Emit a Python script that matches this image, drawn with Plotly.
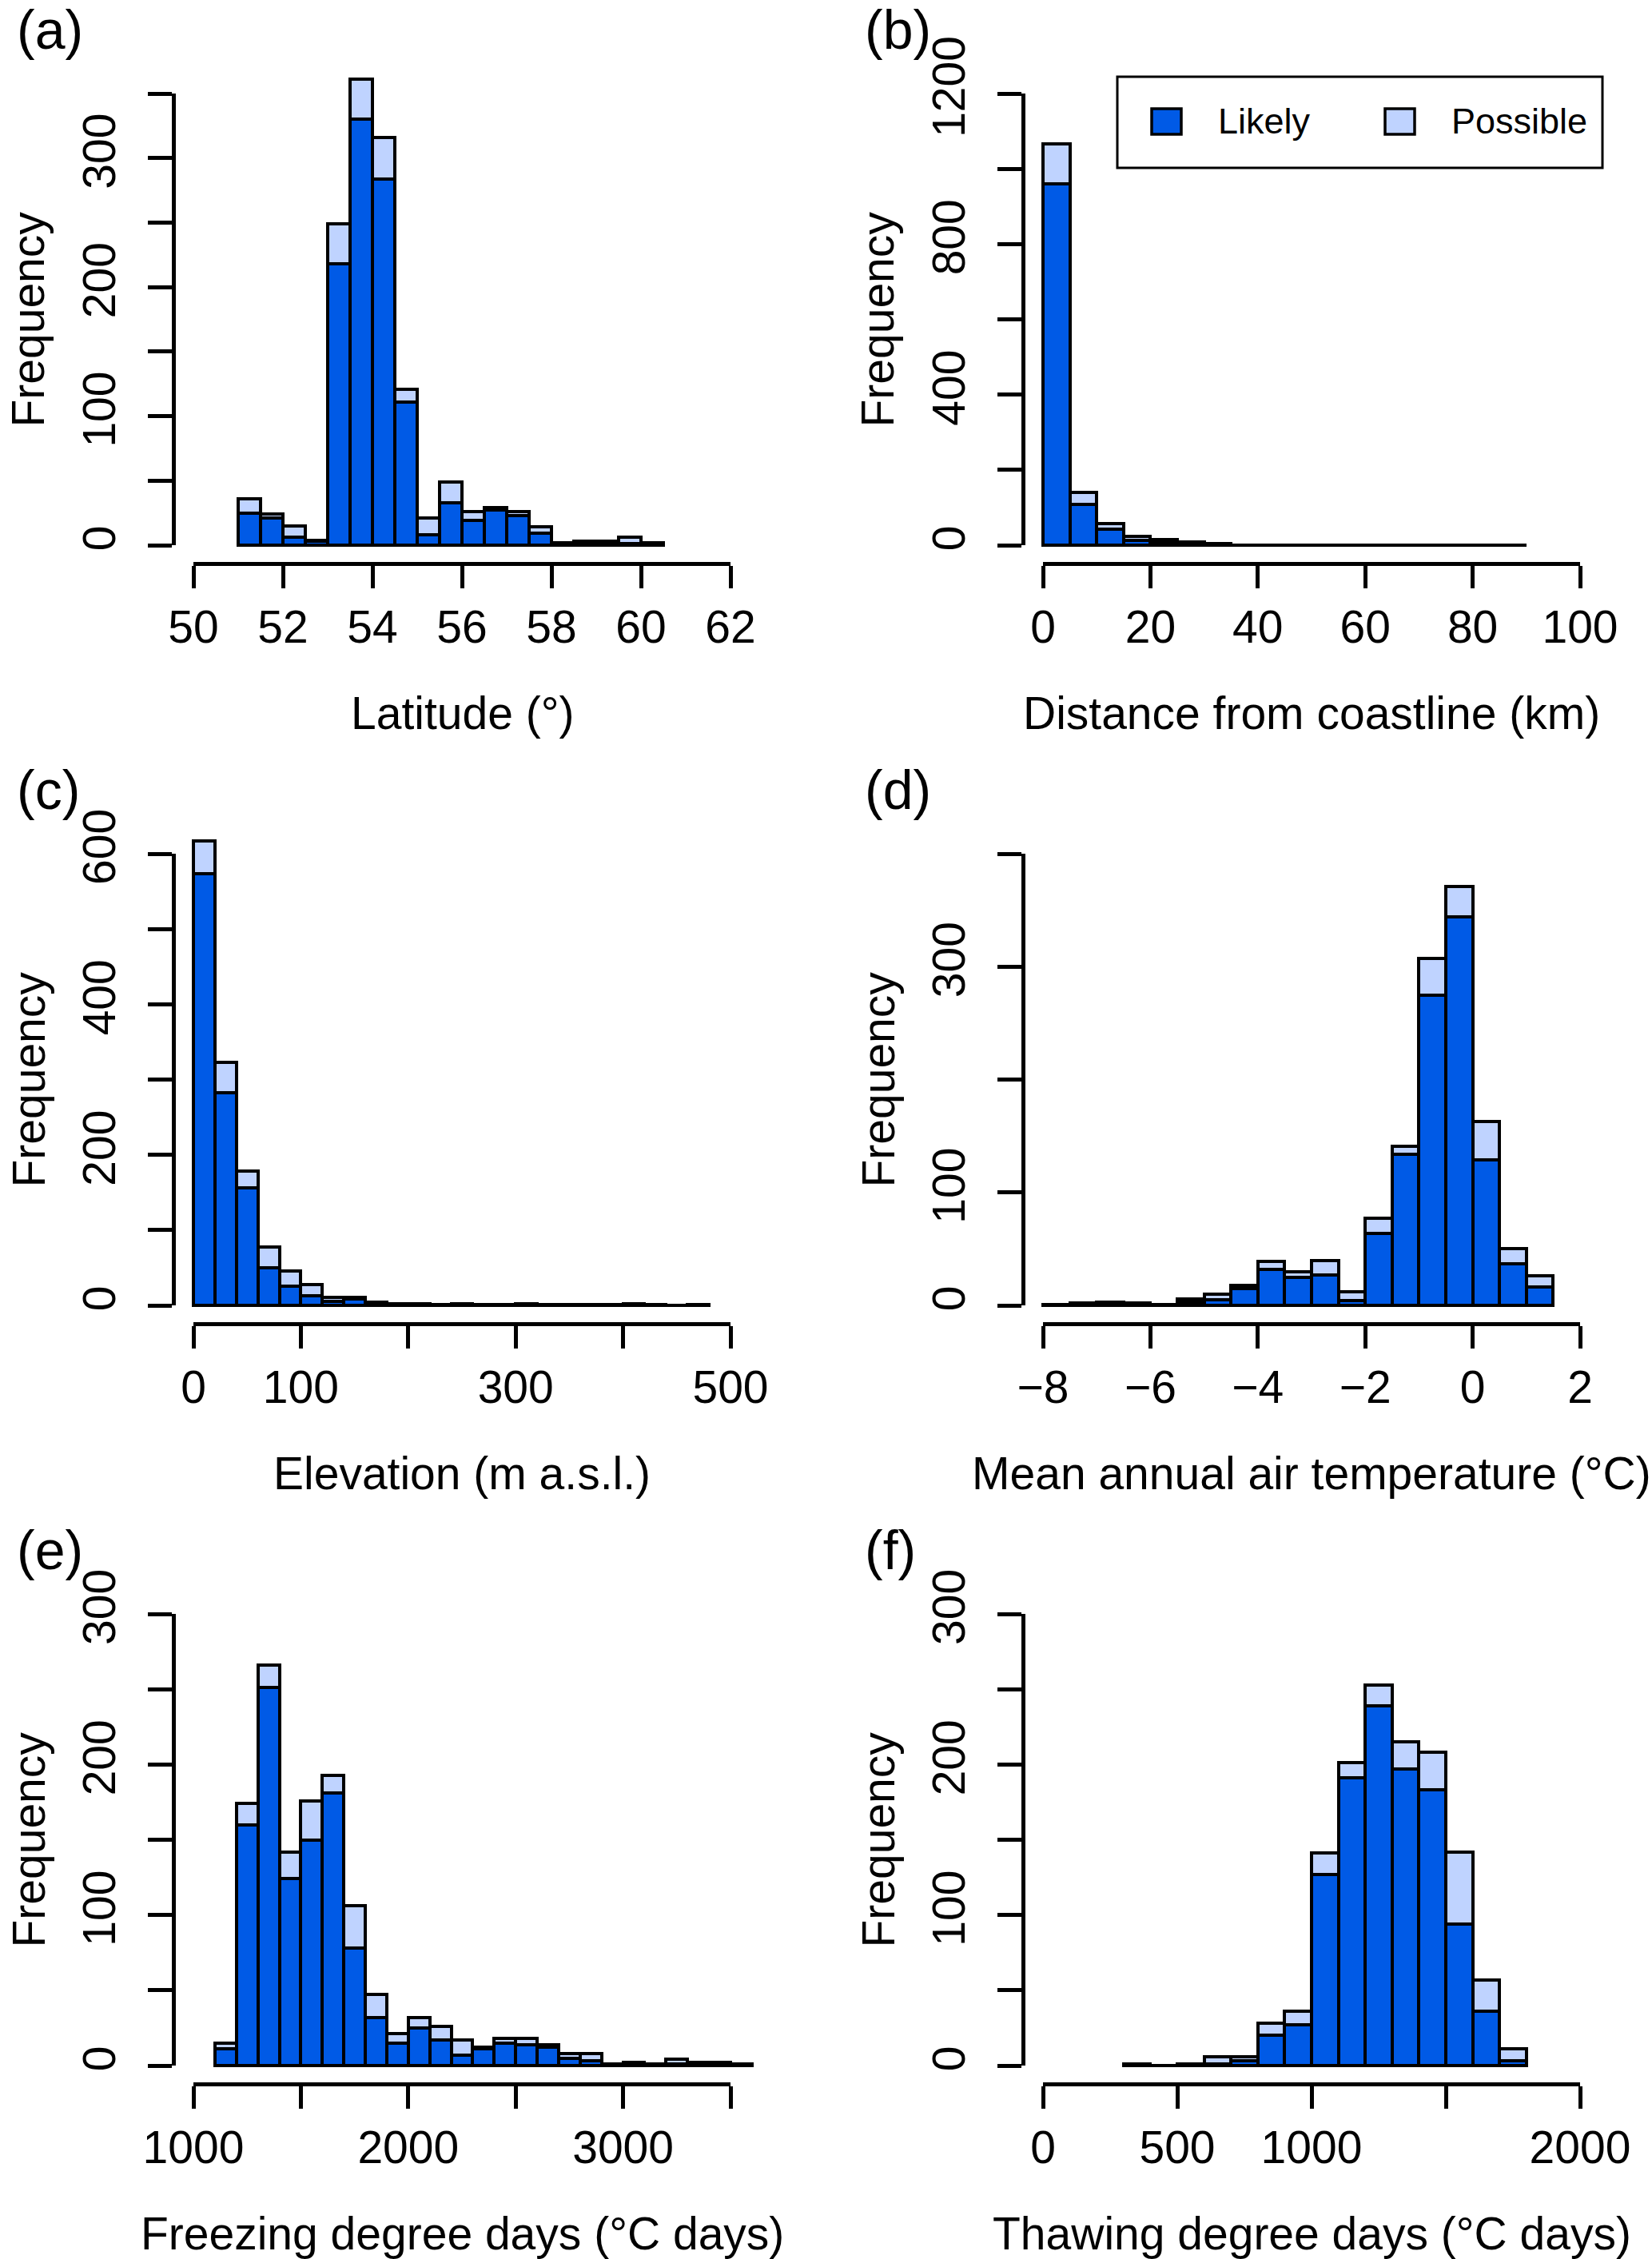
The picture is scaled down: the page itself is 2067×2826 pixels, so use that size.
import plotly.graph_objects as go

W, H = 2067, 2826
FONT = "Liberation Sans, Arial, sans-serif"
LIKELY_COLOR = "#005ae6"
POSSIBLE_COLOR = "#bfd3ff"

series_names = ["Likely", "Possible"]

# (a) latitude, bins of 0.5 degree (left edges)
lat_bins = [51.0, 51.5, 52.0, 52.5, 53.0, 53.5, 54.0, 54.5, 55.0, 55.5,
            56.0, 56.5, 57.0, 57.5, 58.0, 58.5, 59.0, 59.5, 60.0]
lat_likely = [25, 21, 6, 3, 218, 330, 284, 111, 8, 33, 19, 27, 23, 9, 1, 2, 2, 1, 2]
lat_possible = [11, 3, 9, 1, 31, 31, 32, 10, 13, 16, 7, 2, 3, 5, 1, 1, 1, 5, 0]
lat_xticks = [50, 52, 54, 56, 58, 60, 62]
lat_xlabels = ["50", "52", "54", "56", "58", "60", "62"]
lat_yticks = [0, 50, 100, 150, 200, 250, 300, 350]
lat_ylabels = ["0", "", "100", "", "200", "", "300", ""]

# (b) distance from coastline, bins of 5 km
dist_bins = [0, 5, 10, 15, 20, 25, 30, 35, 40, 45, 50, 55, 60, 65, 70, 75, 80, 85]
dist_likely = [959, 108, 42, 13, 9, 5, 3, 1, 1, 0, 1, 0, 0, 1, 0, 0, 0, 1]
dist_possible = [108, 32, 15, 11, 6, 4, 1, 0, 0, 0, 0, 0, 0, 0, 0, 0, 1, 0]
dist_xticks = [0, 20, 40, 60, 80, 100]
dist_xlabels = ["0", "20", "40", "60", "80", "100"]
dist_yticks = [0, 200, 400, 600, 800, 1000, 1200]
dist_ylabels = ["0", "", "400", "", "800", "", "1200"]

# (c) elevation, bins of 20 m
elev_bins = [0, 20, 40, 60, 80, 100, 120, 140, 160, 180, 200, 220,
             240, 260, 280, 300, 320, 340, 360, 380, 400, 420, 440, 460]
elev_likely = [573, 283, 156, 50, 25, 13, 5, 8, 3, 1, 1, 1, 1, 0, 1, 1, 0, 1, 0, 1, 1, 1, 0, 1]
elev_possible = [44, 40, 22, 27, 21, 15, 6, 3, 1, 1, 1, 0, 1, 1, 0, 1, 1, 0, 1, 0, 1, 0, 0, 0]
elev_xticks = [0, 100, 200, 300, 400, 500]
elev_xlabels = ["0", "100", "", "300", "", "500"]
elev_yticks = [0, 100, 200, 300, 400, 500, 600]
elev_ylabels = ["0", "", "200", "", "400", "", "600"]

# (d) mean annual air temperature, bins of 0.5 degC
maat_bins = [-8.0, -7.5, -7.0, -6.5, -6.0, -5.5, -5.0, -4.5, -4.0, -3.5,
             -3.0, -2.5, -2.0, -1.5, -1.0, -0.5, 0.0, 0.5, 1.0]
maat_likely = [1, 1, 2, 1, 1, 3, 5, 15, 32, 25, 27, 4, 64, 134, 275, 344, 129, 37, 16]
maat_possible = [0, 1, 1, 1, 0, 3, 5, 3, 7, 5, 13, 8, 13, 7, 32, 27, 34, 13, 10]
maat_xticks = [-8, -6, -4, -2, 0, 2]
maat_xlabels = ["\u22128", "\u22126", "\u22124", "\u22122", "0", "2"]
maat_yticks = [0, 100, 200, 300, 400]
maat_ylabels = ["0", "100", "", "300", ""]

# (e) freezing degree days, bins of 100
fdd_bins = [1100, 1200, 1300, 1400, 1500, 1600, 1700, 1800, 1900, 2000, 2100, 2200, 2300,
            2400, 2500, 2600, 2700, 2800, 2900, 3000, 3100, 3200, 3300, 3400, 3500]
fdd_likely = [11, 160, 251, 124, 150, 181, 78, 32, 15, 25, 17, 7, 11,
              15, 14, 12, 5, 3, 1, 1, 1, 1, 1, 1, 1]
fdd_possible = [4, 14, 15, 18, 26, 12, 28, 15, 6, 7, 9, 10, 1,
                3, 4, 2, 3, 5, 0, 1, 0, 3, 1, 1, 0]
fdd_xticks = [1000, 1500, 2000, 2500, 3000, 3500]
fdd_xlabels = ["1000", "", "2000", "", "3000", ""]
fdd_yticks = [0, 50, 100, 150, 200, 250, 300]
fdd_ylabels = ["0", "", "100", "", "200", "", "300"]

# (f) thawing degree days, bins of 100
tdd_bins = [300, 400, 500, 600, 700, 800, 900, 1000, 1100, 1200, 1300, 1400, 1500, 1600, 1700]
tdd_likely = [1, 0, 1, 1, 3, 20, 27, 127, 191, 239, 197, 183, 94, 36, 3]
tdd_possible = [0, 0, 0, 5, 3, 8, 9, 14, 10, 14, 18, 25, 48, 21, 8]
tdd_xticks = [0, 500, 1000, 1500, 2000]
tdd_xlabels = ["0", "500", "1000", "", "2000"]
tdd_yticks = [0, 50, 100, 150, 200, 250, 300]
tdd_ylabels = ["0", "", "100", "", "200", "", "300"]

panels = [
    ("(a)", "Latitude (\u00b0)", lat_bins, 0.5, lat_likely, lat_possible,
     lat_xticks, lat_xlabels, lat_yticks, lat_ylabels),
    ("(b)", "Distance from coastline (km)", dist_bins, 5, dist_likely, dist_possible,
     dist_xticks, dist_xlabels, dist_yticks, dist_ylabels),
    ("(c)", "Elevation (m a.s.l.)", elev_bins, 20, elev_likely, elev_possible,
     elev_xticks, elev_xlabels, elev_yticks, elev_ylabels),
    ("(d)", "Mean annual air temperature (\u00b0C)", maat_bins, 0.5, maat_likely, maat_possible,
     maat_xticks, maat_xlabels, maat_yticks, maat_ylabels),
    ("(e)", "Freezing degree days (\u00b0C days)", fdd_bins, 100, fdd_likely, fdd_possible,
     fdd_xticks, fdd_xlabels, fdd_yticks, fdd_ylabels),
    ("(f)", "Thawing degree days (\u00b0C days)", tdd_bins, 100, tdd_likely, tdd_possible,
     tdd_xticks, tdd_xlabels, tdd_yticks, tdd_ylabels),
]

# pixel geometry of panel (a); the others are shifted by column / row
COL_DX, ROW_DY = 1063, 951
XT0, XT1 = 242, 914      # first / last x tick
YAX_X = 217              # y axis line
Y0, YTOP = 682, 117      # y = 0 and top y tick
XAX_Y = 705              # x axis line
PAD_L, PAD_R, PAD_B, PAD_T = 60, 80, 12, 70
LW = 4.5
BAR_LW = 4.2
TICK_SIZE = 57

fig = go.Figure()
layout = {}
annotations = []

for k, (tag, xtitle, bins, bw, likely, possible, xt, xl, yt, yl) in enumerate(panels):
    col, row = k % 2, k // 2
    ox, oy = col * COL_DX, row * ROW_DY
    xt0, xt1 = XT0 + ox, XT1 + ox
    y0, ytop = Y0 + oy, YTOP + oy
    kx = (xt[-1] - xt[0]) / (xt1 - xt0)
    ky = yt[-1] / (y0 - ytop)
    nb, nd = 2 * k + 1, 2 * k + 2

    centers = [b + bw / 2 for b in bins]
    fig.add_trace(go.Bar(x=centers, y=likely, width=bw, name=series_names[0],
                         marker=dict(color=LIKELY_COLOR, line=dict(color="black", width=BAR_LW)),
                         xaxis=f"x{nb}", yaxis=f"y{nb}", showlegend=False))
    fig.add_trace(go.Bar(x=centers, y=possible, width=bw, name=series_names[1],
                         marker=dict(color=POSSIBLE_COLOR, line=dict(color="black", width=BAR_LW)),
                         xaxis=f"x{nb}", yaxis=f"y{nb}", showlegend=False))
    # empty trace that carries the R-style detached axes
    fig.add_trace(go.Scatter(x=[], y=[], xaxis=f"x{nd}", yaxis=f"y{nd}",
                             showlegend=False, hoverinfo="skip"))

    layout[f"xaxis{nb}"] = dict(domain=[(xt0 - PAD_L) / W, (xt1 + PAD_R) / W],
                                range=[xt[0] - PAD_L * kx, xt[-1] + PAD_R * kx],
                                visible=False, anchor=f"y{nb}", fixedrange=True,
                                automargin=False)
    layout[f"yaxis{nb}"] = dict(domain=[1 - (y0 + PAD_B) / H, 1 - (ytop - PAD_T) / H],
                                range=[-PAD_B * ky, yt[-1] + PAD_T * ky],
                                visible=False, anchor=f"x{nb}", fixedrange=True,
                                automargin=False)
    axis_style = dict(showline=True, linecolor="black", linewidth=LW, ticks="outside",
                      tickwidth=LW, tickcolor="black", tickmode="array",
                      tickfont=dict(size=TICK_SIZE, color="black", family=FONT),
                      showgrid=False, zeroline=False, fixedrange=True, anchor="free",
                      automargin=False)
    layout[f"xaxis{nd}"] = dict(axis_style, domain=[xt0 / W, xt1 / W], range=[xt[0], xt[-1]],
                                position=1 - (XAX_Y + oy) / H, ticklen=28,
                                tickvals=xt, ticktext=xl)
    layout[f"yaxis{nd}"] = dict(axis_style, domain=[1 - y0 / H, 1 - ytop / H], range=[0, yt[-1]],
                                position=(YAX_X + ox) / W, ticklen=30, tickangle=-90,
                                ticklabelstandoff=18, tickvals=yt, ticktext=yl)

    annotations.append(dict(text=tag, x=(19 + 1061 * col) / W, y=1 - (37 + oy) / H,
                            xanchor="left", yanchor="middle", font=dict(size=68)))
    annotations.append(dict(text="Frequency", textangle=-90, x=(35 + ox) / W,
                            y=1 - ((y0 + ytop) / 2) / H, xanchor="center", yanchor="middle"))
    annotations.append(dict(text=xtitle, x=(xt0 + xt1) / 2 / W, y=1 - (892 + oy) / H,
                            xanchor="center", yanchor="middle"))

# legend box in panel (b)
shapes = [dict(type="rect", xref="paper", yref="paper", x0=1398 / W, x1=2005 / W,
               y0=1 - 210 / H, y1=1 - 96 / H, line=dict(color="black", width=3),
               fillcolor="white")]
for name, color, sx, tx in [(series_names[0], LIKELY_COLOR, 1441, 1522),
                            (series_names[1], POSSIBLE_COLOR, 1733, 1814)]:
    shapes.append(dict(type="rect", xref="paper", yref="paper", x0=sx / W, x1=(sx + 37) / W,
                       y0=1 - 168 / H, y1=1 - 136 / H, line=dict(color="black", width=3.5),
                       fillcolor=color))
    annotations.append(dict(text=name, x=tx / W, y=1 - 152 / H, xanchor="left",
                            yanchor="middle", font=dict(size=45)))

for a in annotations:
    a.update(xref="paper", yref="paper", showarrow=False)
    a.setdefault("font", dict(size=TICK_SIZE))
    a["font"].update(family=FONT, color="black")

fig.update_layout(
    template="none",
    width=W, height=H, margin=dict(l=0, r=0, t=0, b=0, pad=0),
    barmode="stack", bargap=0,
    paper_bgcolor="white", plot_bgcolor="rgba(0,0,0,0)",
    font=dict(family=FONT, color="black"),
    showlegend=False, annotations=annotations, shapes=shapes,
    **layout
)

fig.write_html("out.html", config={"displayModeBar": False},
               post_script="document.body.style.margin='0';")
